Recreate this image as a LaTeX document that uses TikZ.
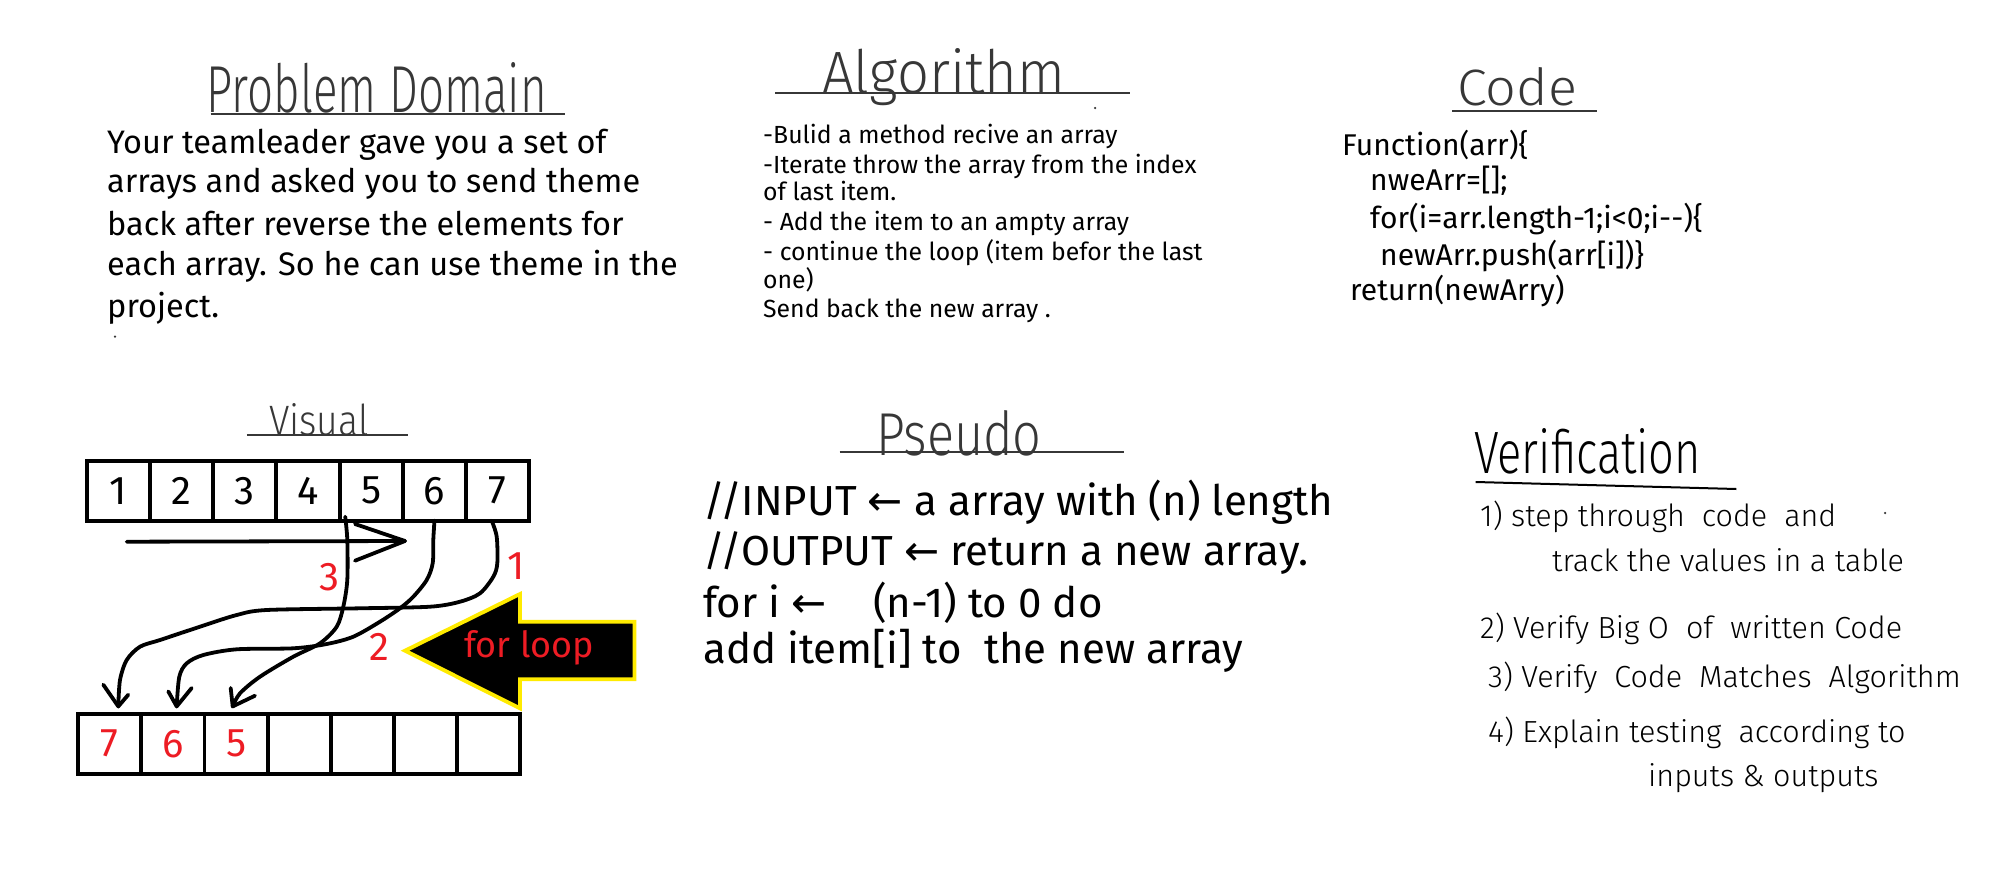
\documentclass[tikz,border=0pt]{standalone}
\usepackage{fontspec}
\usepackage{graphicx}
\setmainfont{Fira Sans}
\IfFontExistsTF{Fira Sans Light}{\newfontfamily\titlef{Fira Sans Light}}{\newfontfamily\titlef{Fira Sans}}
\newfontfamily\djv{DejaVu Sans}
\usetikzlibrary{arrows.meta,calc}
\definecolor{pred}{RGB}{237,28,36}
\definecolor{pyel}{RGB}{255,235,0}
\definecolor{tgray}{RGB}{55,55,55}
\newcommand\ttl[3]{\resizebox{#1}{#2}{\titlef #3}}
\begin{document}
\begin{tikzpicture}[x=1pt,y=-1pt,
  cell/.style={draw,line width=3.8pt,minimum width=63.2pt,minimum height=60pt,inner sep=0pt,outer sep=0pt,font=\fontsize{40}{40}\selectfont},
  ttlnode/.style={anchor=base west,inner sep=0pt,text=tgray},
  uline/.style={draw=tgray,line width=2pt},
  pdtext/.style={anchor=base west,inner sep=0pt,font=\fontsize{32.5}{36}\selectfont},
  altext/.style={anchor=base west,inner sep=0pt,font=\fontsize{24.8}{28}\selectfont},
  cdtext/.style={anchor=base west,inner sep=0pt,font=\fontsize{30}{34}\selectfont},
  pstext/.style={anchor=base west,inner sep=0pt,font=\fontsize{42}{46}\selectfont},
  vftext/.style={anchor=base west,inner sep=0pt,font=\titlef\fontsize{30.5}{34}\selectfont},
  rlabel/.style={inner sep=0pt,text=pred,font=\fontsize{40}{40}\selectfont},
  curve/.style={line width=3.8pt,line cap=round,line join=round},
  dot/.style={fill=tgray,circle,inner sep=0pt,minimum size=2.5pt}]
\useasboundingbox[fill=white] (0,0) rectangle (2012,878);

% ---------- Problem Domain ----------
\node[ttlnode] (tpd) at (206.6,112) {\ttl{340pt}{50pt}{Problem Domain}};
\draw[uline] (210.6,114) -- (564.5,114);
\node[pdtext] (pd1) at (107,153) {Your teamleader gave you a set of};
\node[pdtext] (pd2) at (107,192) {arrays and asked you to send theme};
\node[pdtext] (pd3) at (107,235) {back after reverse the elements for};
\node[pdtext] (pd4) at (107,275) {each array. So he can use theme in the};
\node[pdtext] (pd5) at (107,317) {project.};
\node[dot] (d1) at (115,336.7) {};

% ---------- Algorithm ----------
\node[ttlnode] (tal) at (822,93) {\ttl{243pt}{45pt}{Algorithm}};
\draw[uline] (775,92.7) -- (1130,92.7);
\node[dot] (d2) at (1095,108) {};
\node[altext] (al1) at (763,143) {-Bulid a method recive an array};
\node[altext] (al2) at (763,173) {-Iterate throw the array from the index};
\node[altext] (al3) at (763,200) {of last item.};
\node[altext] (al4) at (763,230) {- Add the item to an ampty array};
\node[altext] (al5) at (763,260) {- continue the loop (item befor the last};
\node[altext] (al6) at (763,288) {one)};
\node[altext] (al7) at (763,317) {Send back the new array .};

% ---------- Code ----------
\node[ttlnode] (tcd) at (1457,105) {\ttl{120pt}{38pt}{Code}};
\draw[uline] (1452,111) -- (1597,111);
\node[cdtext] (cd1) at (1342,155) {Function(arr)\{};
\node[cdtext] (cd2) at (1370,190) {nweArr=[];};
\node[cdtext] (cd3) at (1370,228) {for(i=arr.length-1;i<0;i-{}-)\{};
\node[cdtext] (cd4) at (1380,265) {newArr.push(arr[i])\}};
\node[cdtext] (cd5) at (1350,300) {return(newArry)};

% ---------- Visual ----------
\node[ttlnode] (tvi) at (269,435) {\ttl{99.5pt}{32pt}{Visual}};
\draw[uline] (246.8,435) -- (407.5,435);
\foreach \i in {1,...,7}
  \node[cell] (t\i) at ({86.7+63.23*(\i-0.5)},490.7) {\i};
\foreach \i/\t in {1/7,2/6,3/5,4/,5/,6/,7/}
  \node[cell,text=pred] (b\i) at ({78.3+63.1*(\i-0.5)},743.7) {\t};

% direction arrow
\coordinate (ha) at (126.7,541.7);
\coordinate (hb) at (405,541);
\draw[curve] (ha) -- (hb);
\draw[curve] (355,524) -- (hb) -- (355,560.7);

% tips
\coordinate (e1) at ([xshift=8.45pt,yshift=7.3pt]b1.north);
\coordinate (e2) at ([xshift=3.75pt,yshift=7.3pt]b2.north);
\coordinate (e3) at ([xshift=-3.35pt,yshift=7.3pt]b3.north);

% curve 1 : 7 -> first
\draw[curve] plot[smooth,tension=0.5] coordinates {([xshift=-6pt]t7.south) (496.7,536.7) (497.3,563.3) (493.3,576.7) (480,593.3) (460,601.7) (430,606.7) (360,608.3) (266.7,610) (236.7,615) (200,626.7) (160,640) (140,646.7) (126.7,660) (120,680) (e1)};
\draw[curve] ([xshift=-15pt,yshift=21.7pt]e1) -- (e1) -- ([xshift=10pt,yshift=11.7pt]e1);
% curve 2 : 6 -> second
\draw[curve] plot[smooth,tension=0.5] coordinates {(t6.south) (433.3,540) (432.7,563.3) (426.7,580) (413.3,596.7) (400,608.3) (380,621.7) (353.3,636.7) (326.7,644) (293.3,648.3) (236.7,649.3) (203.3,655) (186.7,663.3) (179.3,676.7) (e2)};
\draw[curve] ([xshift=-8.4pt,yshift=15pt]e2) -- (e2) -- ([xshift=15pt,yshift=18.4pt]e2);
% curve 3 : 5 -> third
\draw[curve] plot[smooth,tension=0.5] coordinates {([xshift=-26pt,yshift=4pt]t5.south) (347.3,540) (347.3,580) (343.3,606.7) (336.7,626.7) (320,643.3) (293.3,656.7) (260,676.7) (240,693.3) (e3)};
\draw[curve] ([xshift=-2pt,yshift=18.4pt]e3) -- (e3) -- ([xshift=22.3pt,yshift=10.7pt]e3);

\node[rlabel] (l3) at (329,577.5) {3};
\node[rlabel] (l1) at (516.5,566.5) {1};
\node[rlabel] (l2) at (379,646.5) {2};

% for loop arrow
\draw[fill=black,draw=pyel,line width=3.8pt,line join=miter]
  (405,650.7) -- (520,594) -- (520,621.7) -- (634.5,621.7) -- (634.5,679.3) -- (520,679.3) -- (520,708.3) -- cycle;
\node[anchor=base west,inner sep=0pt,text=pred] (fl) at (464,657) {\resizebox{130pt}{27pt}{for loop}};

% ---------- Pseudo ----------
\node[ttlnode] (tps) at (876.5,455) {\ttl{164.8pt}{45pt}{Pseudo}};
\draw[uline] (839.6,452) -- (1123.6,452);
\node[pstext] (ps1) at (703,515) {//INPUT {\djv ←} a array with (n) length};
\node[pstext] (ps2) at (703,565) {//OUTPUT {\djv ←} return a new array.};
\node[pstext] (ps3) at (703,617) {for i {\djv ←}\hspace{1.1em}(n-1) to 0 do};
\node[pstext] (ps4) at (703,663) {add item[i] to\ \ the new array};

% ---------- Verification ----------
\node[ttlnode,text=black] (tvf) at (1474,473) {\ttl{226.8pt}{45pt}{Verification}};
\draw[line width=2pt] (1475.7,482) -- (1736.4,489);
\node[vftext] (v1) at (1480,526) {1) step through\ \ code\ \ and};
\node[dot] (d3) at (1885,513) {};
\node[vftext] (v1b) at (1552,571) {track the values in a table};
\node[vftext] (v2) at (1480,638) {2)\ Verify Big O\ \ of\ \ written Code};
\node[vftext] (v3) at (1488,687) {3)\ Verify\ \ Code\ \ Matches\ \ Algorithm};
\node[vftext] (v4) at (1488,742) {4)\ Explain testing\ \ according to};
\node[vftext] (v4b) at (1648,786) {inputs \& outputs};
\end{tikzpicture}
\end{document}
